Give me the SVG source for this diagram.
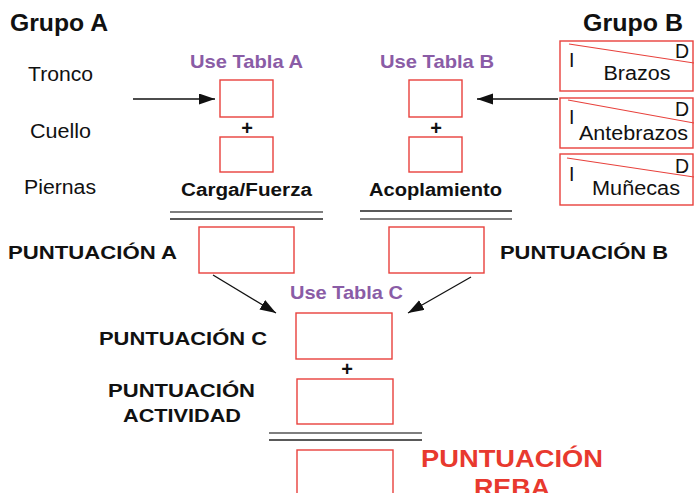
<svg xmlns="http://www.w3.org/2000/svg" width="694" height="493" viewBox="0 0 694 493">
<defs>
<style>
.box{fill:none;stroke:#e8413c;stroke-width:1.4}
.diag{stroke:#e8413c;stroke-width:1.2}
.reg{font-family:"Liberation Sans",Arial,sans-serif;font-size:19.5px;fill:#111}
.bold{font-family:"Liberation Sans",Arial,sans-serif;font-weight:bold;fill:#111}
.purple{font-family:"Liberation Sans",Arial,sans-serif;font-weight:bold;font-size:19px;fill:#8a5ca6}
.red{font-family:"Liberation Sans",Arial,sans-serif;font-weight:bold;font-size:23px;fill:#e8392e}
.conn{stroke:#111;stroke-width:1.3;fill:none}
.dl1{stroke:#555;stroke-width:1.5}
.dl2{stroke:#222;stroke-width:1.3}
</style>
<marker id="ah" markerUnits="userSpaceOnUse" markerWidth="17" markerHeight="12" refX="16" refY="5.5" orient="auto">
<path d="M0,0 L16,5.5 L0,11 z" fill="#111"/>
</marker>
</defs>
<rect width="694" height="493" fill="#fff"/>

<g id="grupoA-labels">
<text class="bold" x="10" y="31" font-size="23.5" textLength="98" lengthAdjust="spacingAndGlyphs">Grupo A</text>
<text class="reg" x="60.5" y="81" text-anchor="middle" textLength="65" lengthAdjust="spacingAndGlyphs">Tronco</text>
<text class="reg" x="60.5" y="138" text-anchor="middle" textLength="61" lengthAdjust="spacingAndGlyphs">Cuello</text>
<text class="reg" x="60" y="194" text-anchor="middle" textLength="72" lengthAdjust="spacingAndGlyphs">Piernas</text>
</g>

<g id="tablaA">
<text class="purple" x="246.5" y="68" text-anchor="middle" textLength="113" lengthAdjust="spacingAndGlyphs">Use Tabla A</text>
<rect class="box" x="220" y="80" width="53" height="37"/>
<text class="bold" x="247" y="135" text-anchor="middle" font-size="20">+</text>
<rect class="box" x="220" y="137" width="53" height="35"/>
<text class="bold" x="246.5" y="196" text-anchor="middle" font-size="18" textLength="131" lengthAdjust="spacingAndGlyphs">Carga/Fuerza</text>
<line class="dl1" x1="170" y1="212" x2="323" y2="212"/>
<line class="dl2" x1="170" y1="219" x2="323" y2="219"/>
</g>

<g id="tablaB">
<text class="purple" x="437" y="68" text-anchor="middle" textLength="114" lengthAdjust="spacingAndGlyphs">Use Tabla B</text>
<rect class="box" x="409" y="80" width="53" height="37"/>
<text class="bold" x="436" y="135" text-anchor="middle" font-size="20">+</text>
<rect class="box" x="409" y="137" width="53" height="35"/>
<text class="bold" x="435.5" y="196" text-anchor="middle" font-size="18" textLength="133" lengthAdjust="spacingAndGlyphs">Acoplamiento</text>
<line class="dl2" x1="360" y1="211" x2="512" y2="211"/>
<line class="dl1" x1="360" y1="219" x2="512" y2="219"/>
</g>

<g id="grupoB">
<text class="bold" x="633" y="31" font-size="23.5" text-anchor="middle" textLength="100" lengthAdjust="spacingAndGlyphs">Grupo B</text>
</g>

<g id="brazos">
<rect class="box" x="560" y="41" width="133" height="50"/>
<line class="diag" x1="569" y1="44" x2="694" y2="63"/>
<text class="reg" x="569" y="67" font-size="19">I</text>
<text class="reg" x="675" y="58" font-size="19">D</text>
<text class="reg" x="637" y="80" text-anchor="middle" font-size="20" textLength="67" lengthAdjust="spacingAndGlyphs">Brazos</text>
</g>

<g id="antebrazos">
<rect class="box" x="560" y="98" width="133" height="50"/>
<line class="diag" x1="568" y1="100" x2="694" y2="123"/>
<text class="reg" x="569" y="124" font-size="19">I</text>
<text class="reg" x="675" y="116" font-size="19">D</text>
<text class="reg" x="633.5" y="140" text-anchor="middle" font-size="20" textLength="109" lengthAdjust="spacingAndGlyphs">Antebrazos</text>
</g>

<g id="munecas">
<rect class="box" x="560" y="154" width="133" height="51"/>
<line class="diag" x1="567" y1="158" x2="694" y2="177"/>
<text class="reg" x="569" y="181" font-size="19">I</text>
<text class="reg" x="675" y="173" font-size="19">D</text>
<text class="reg" x="636" y="195" text-anchor="middle" font-size="20" textLength="88" lengthAdjust="spacingAndGlyphs">Muñecas</text>
</g>

<g id="puntA">
<text class="bold" x="8" y="259" font-size="19" textLength="169" lengthAdjust="spacingAndGlyphs">PUNTUACIÓN A</text>
<rect class="box" x="199" y="227" width="95" height="46"/>
</g>

<g id="puntB">
<rect class="box" x="389" y="227" width="95" height="46"/>
<text class="bold" x="500" y="259" font-size="19" textLength="168" lengthAdjust="spacingAndGlyphs">PUNTUACIÓN B</text>
</g>

<g id="puntC">
<text class="purple" x="346.5" y="299" text-anchor="middle" textLength="113" lengthAdjust="spacingAndGlyphs">Use Tabla C</text>
<text class="bold" x="99" y="345" font-size="19" textLength="168" lengthAdjust="spacingAndGlyphs">PUNTUACIÓN C</text>
<rect class="box" x="296" y="313" width="96" height="46"/>
<text class="bold" x="347" y="376" text-anchor="middle" font-size="20">+</text>
</g>

<g id="actividad">
<text class="bold" x="181.5" y="397" font-size="19" text-anchor="middle" textLength="147" lengthAdjust="spacingAndGlyphs">PUNTUACIÓN</text>
<text class="bold" x="182" y="422" font-size="19" text-anchor="middle" textLength="118" lengthAdjust="spacingAndGlyphs">ACTIVIDAD</text>
<rect class="box" x="297" y="379" width="96" height="45"/>
<line class="dl1" x1="269" y1="433" x2="422" y2="433"/>
<line class="dl2" x1="269" y1="440" x2="422" y2="440"/>
</g>

<g id="reba">
<rect class="box" x="297" y="450" width="96" height="60"/>
<text class="red" x="512" y="467" text-anchor="middle" textLength="182" lengthAdjust="spacingAndGlyphs">PUNTUACIÓN</text>
<text class="red" x="512" y="496" text-anchor="middle" textLength="76" lengthAdjust="spacingAndGlyphs">REBA</text>
</g>

<g id="connectors">
<line class="conn" x1="133" y1="99" x2="215" y2="99" marker-end="url(#ah)"/>
<line class="conn" x1="558" y1="99" x2="477" y2="99" marker-end="url(#ah)"/>
<line class="conn" x1="213" y1="275" x2="276" y2="313" marker-end="url(#ah)"/>
<line class="conn" x1="471" y1="277" x2="408" y2="313" marker-end="url(#ah)"/>
</g>
</svg>
